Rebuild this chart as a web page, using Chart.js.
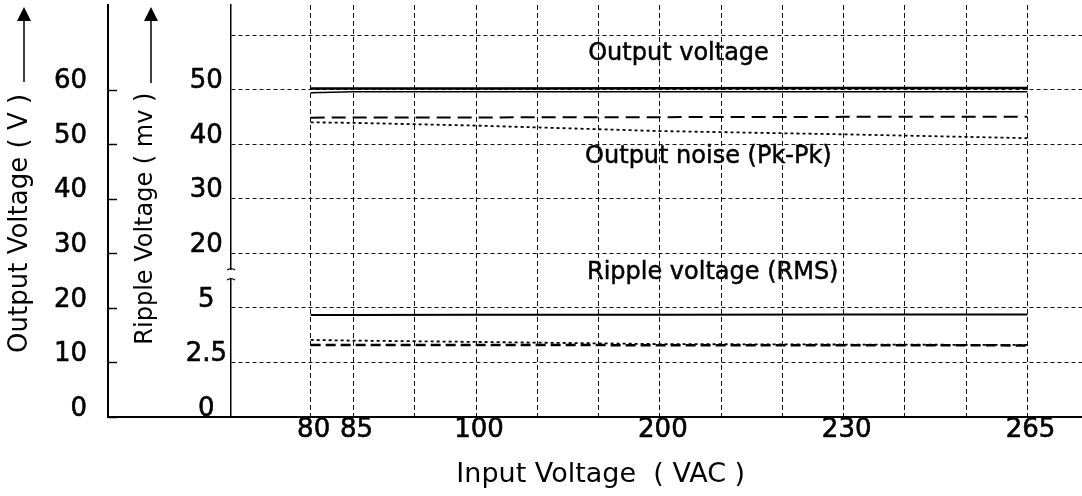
<!DOCTYPE html>
<html lang="en">
<head>
    <meta charset="UTF-8">
    <title>Output / Ripple Voltage vs Input Voltage</title>
    <style>
        body { margin: 0; background: #fff; }
        #wrap { width: 1082px; height: 496px; }
    </style>
</head>
<body>
    <div id="wrap"><canvas id="chart"></canvas></div>
    <script src="https://cdn.jsdelivr.net/npm/chart.js"></script>
    <script>
        // input voltage (VAC) where the curves are read
        const inputVoltages = [80, 85, 100, 200, 230, 265];
        // x axis is schematic: gridlines in grid steps, only some are labelled
        const xGridPos = [1.3, 2, 3, 4, 5, 6, 7, 8, 9, 10, 11, 12, 13];
        const xGridLabel = ['80', '85', '', '100', '', '', '200', '', '', '230', '', '', '265'];

        // outer axis: output voltage (V)
        const voltTicks = [0, 10, 20, 30, 40, 50, 60];
        // inner axis: ripple voltage (mV), broken between 5 and 20
        const rippleTicks = [0, 10, 20, 30, 40, 50, 60, 70];
        const rippleTickLabels = ['0', '2.5', '5', '20', '30', '40', '50', ''];

        // curves (V)
        const outVoltHigh = [60.2, 60.2, 60.2, 60.25, 60.3, 60.3];
        const outVoltLow = [59.4, 59.6, 59.6, 59.6, 59.6, 59.6];
        // curves (mV)
        const noiseDash = [44.85, 44.9, 44.9, 44.95, 45.0, 45.0];
        const noiseDot = [44.0, 43.9, 43.4, 42.4, 41.8, 41.1];
        const rippleRms = [4.67, 4.67, 4.68, 4.69, 4.70, 4.70];
        const rippleDot = [3.53, 3.50, 3.44, 3.34, 3.32, 3.30];
        const rippleDash = [3.30, 3.30, 3.30, 3.29, 3.29, 3.28];

        const notes = [
            { text: 'Output voltage', x: 5.83, y: 65.4 },
            { text: 'Output noise (Pk-Pk)', x: 5.78, y: 46.5 },
            { text: 'Ripple voltage (RMS)', x: 5.81, y: 25.3 }
        ];

        // mV -> position on the shared scale (4 units per mV below the break, +10 above it)
        function mvToAxis(mv) {
            return mv <= 5 ? mv * 4 : mv + 10;
        }
        function xOf(v) {
            return xGridPos[xGridLabel.indexOf(String(v))];
        }
        function series(vals, conv) {
            return inputVoltages.map((v, i) => ({ x: xOf(v), y: conv ? conv(vals[i]) : vals[i] }));
        }
        // fixed box sizes, no extra room for overhanging labels
        function fixBox(s, w, h) {
            if (w) s.width = w;
            if (h) s.height = h;
            s.paddingTop = s.paddingBottom = s.paddingLeft = s.paddingRight = 0;
        }

        Chart.defaults.font.family = '"DejaVu Sans", sans-serif';
        Chart.defaults.color = '#000';

        const extras = {
            id: 'extras',
            afterDraw(chart) {
                const { ctx, scales: { x, y, y2 } } = chart;
                ctx.save();
                ctx.strokeStyle = '#000';
                ctx.fillStyle = '#000';

                // base line runs on under the mV labels
                ctx.lineWidth = 2;
                ctx.beginPath();
                ctx.moveTo(y.right, x.top);
                ctx.lineTo(x.left, x.top);
                ctx.stroke();

                // short inward ticks on the V axis
                ctx.lineWidth = 1.5;
                voltTicks.forEach(v => {
                    const py = Math.round(y.getPixelForValue(v)) + 0.5;
                    ctx.beginPath();
                    ctx.moveTo(y.right, py);
                    ctx.lineTo(y.right + 9, py);
                    ctx.stroke();
                });

                // arrows above the two axis titles
                ctx.lineWidth = 1.5;
                [[24, 82], [151, 83]].forEach(([ax, ay]) => {
                    ctx.beginPath();
                    ctx.moveTo(ax, ay);
                    ctx.lineTo(ax, 18);
                    ctx.stroke();
                    ctx.beginPath();
                    ctx.moveTo(ax, 7);
                    ctx.lineTo(ax - 7, 21);
                    ctx.lineTo(ax + 7, 21);
                    ctx.closePath();
                    ctx.fill();
                });

                // break mark on the mV axis
                const bx = y2.right;
                const by = y2.getPixelForValue(26.2);
                ctx.fillStyle = '#fff';
                ctx.fillRect(bx - 3, by - 4, 6, 8);
                ctx.fillStyle = '#000';
                ctx.lineWidth = 1.2;
                [by - 5, by + 5].forEach(yy => {
                    ctx.beginPath();
                    ctx.moveTo(bx - 4, yy + 1);
                    ctx.quadraticCurveTo(bx, yy - 2, bx + 4, yy + 1);
                    ctx.stroke();
                });

                // curve names
                ctx.font = '24px "DejaVu Sans"';
                ctx.textBaseline = 'alphabetic';
                ctx.textAlign = 'left';
                ctx.lineWidth = 0.5;
                notes.forEach(n => {
                    const px = x.getPixelForValue(n.x);
                    const py = y.getPixelForValue(n.y);
                    ctx.fillText(n.text, px, py);
                    ctx.strokeText(n.text, px, py);
                });
                ctx.restore();
            }
        };

        new Chart(document.getElementById('chart'), {
            type: 'line',
            data: {
                datasets: [
                    { label: 'Output voltage', data: series(outVoltHigh), yAxisID: 'y', borderColor: '#000', borderWidth: 2.5 },
                    { label: 'Output voltage (2)', data: series(outVoltLow), yAxisID: 'y', borderColor: '#000', borderWidth: 1.5 },
                    { label: 'Output noise', data: series(noiseDash, mvToAxis), yAxisID: 'y2', borderColor: '#000', borderWidth: 2, borderDash: [14, 7] },
                    { label: 'Output noise (2)', data: series(noiseDot, mvToAxis), yAxisID: 'y2', borderColor: '#000', borderWidth: 1.8, borderDash: [3, 3] },
                    { label: 'Ripple voltage', data: series(rippleRms, mvToAxis), yAxisID: 'y2', borderColor: '#000', borderWidth: 2 },
                    { label: 'Ripple voltage (2)', data: series(rippleDot, mvToAxis), yAxisID: 'y2', borderColor: '#000', borderWidth: 1.8, borderDash: [3, 3] },
                    { label: 'Ripple voltage (3)', data: series(rippleDash, mvToAxis), yAxisID: 'y2', borderColor: '#000', borderWidth: 2.5, borderDash: [10, 5] }
                ]
            },
            options: {
                responsive: true,
                maintainAspectRatio: false,
                animation: false,
                layout: { padding: { top: 5, left: 0, right: 0, bottom: 0 } },
                elements: { point: { radius: 0 }, line: { tension: 0, fill: false } },
                plugins: { legend: { display: false }, tooltip: { enabled: false } },
                scales: {
                    x: {
                        type: 'linear',
                        min: 0,
                        max: 13.89,
                        afterBuildTicks: s => { s.ticks = xGridPos.map(v => ({ value: v })); },
                        afterFit: s => fixBox(s, 0, 79),
                        grid: { color: '#111', lineWidth: 1, drawTicks: false },
                        border: { color: '#000', width: 2, dash: [5, 3] },
                        ticks: {
                            callback: (v, i) => xGridLabel[i],
                            autoSkip: false,
                            maxRotation: 0,
                            padding: 0,
                            labelOffset: 3,
                            textStrokeColor: '#000',
                            textStrokeWidth: 0.6,
                            font: { size: 26, lineHeight: 1 }
                        },
                        title: {
                            display: true,
                            text: 'Input Voltage  ( VAC )' + ' '.repeat(13),
                            font: { size: 27 },
                            padding: { top: 0, bottom: 5 }
                        }
                    },
                    y: {
                        position: 'left',
                        weight: 2,
                        min: 0,
                        max: 75.5,
                        afterBuildTicks: s => { s.ticks = voltTicks.map(v => ({ value: v })); },
                        afterFit: s => fixBox(s, 108, 0),
                        grid: { drawOnChartArea: false, drawTicks: false },
                        border: { color: '#000', width: 2 },
                        ticks: {
                            padding: 21,
                            labelOffset: -8,
                            textStrokeColor: '#000',
                            textStrokeWidth: 0.6,
                            font: { size: 26, lineHeight: 1 }
                        },
                        title: {
                            display: true,
                            text: 'Output Voltage ( V )   ',
                            font: { size: 26 },
                            padding: { top: 5, bottom: 0 }
                        }
                    },
                    y2: {
                        position: 'left',
                        weight: 1,
                        min: 0,
                        max: 75.5,
                        afterBuildTicks: s => { s.ticks = rippleTicks.map(v => ({ value: v })); },
                        afterFit: s => fixBox(s, 123, 0),
                        grid: { color: '#111', lineWidth: 1, drawTicks: false },
                        border: { color: '#000', width: 1.5, dash: [4, 3] },
                        ticks: {
                            callback: (v, i) => rippleTickLabels[i],
                            crossAlign: 'center',
                            padding: 4,
                            labelOffset: -8,
                            textStrokeColor: '#000',
                            textStrokeWidth: 0.6,
                            font: { size: 26, lineHeight: 1 }
                        },
                        title: {
                            display: true,
                            text: 'Ripple Voltage ( mv )  ',
                            font: { size: 24 },
                            padding: { top: 23, bottom: 0 }
                        }
                    }
                }
            },
            plugins: [extras]
        });
    </script>
</body>
</html>
